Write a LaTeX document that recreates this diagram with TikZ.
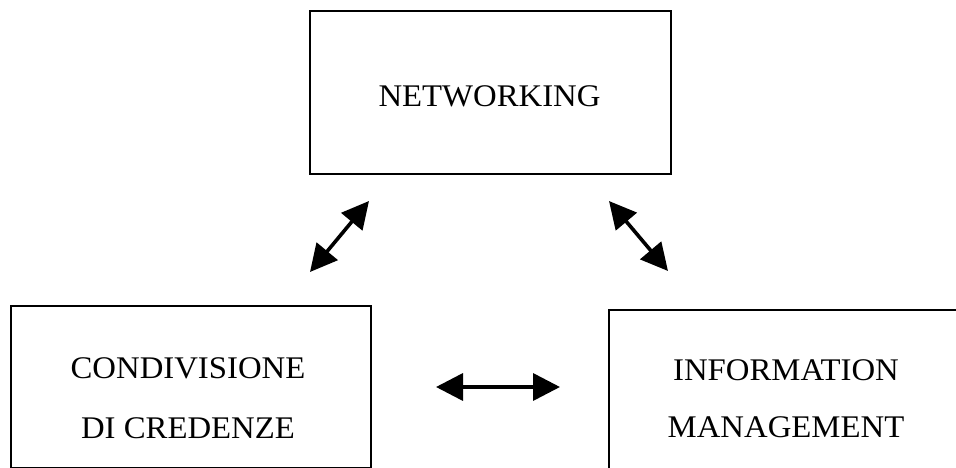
\documentclass[tikz,border=0pt]{standalone}
\usepackage{fontspec}
\setmainfont{Liberation Serif}[FakeStretch=1.04]
\usetikzlibrary{arrows.meta}
\begin{document}
\begin{tikzpicture}[x=1pt,y=-1pt,
  box/.style={draw, line width=1.8pt, rectangle, inner sep=0pt, anchor=north west},
  lbl/.style={font=\fontsize{31.5}{36}\selectfont, anchor=base, inner sep=0pt},
  dbl/.style={line width=3.6pt, {Triangle[length=27pt,width=27pt]}-{Triangle[length=27pt,width=27pt]}}]
\useasboundingbox (0,0) rectangle (956,468);
\fill[white] (0,0) rectangle (956,468);
% boxes
\node[box, minimum width=361pt, minimum height=163pt] (net) at (309,10) {};
\node[box, minimum width=360pt, minimum height=162pt] (cond) at (10,305) {};
\node[box, minimum width=356pt, minimum height=170pt] (info) at (608,309) {};
% labels
\node[lbl] (tnet) at (489.5,107) {NETWORKING};
\node[lbl] (tc1) at (188,378) {CONDIVISIONE};
\node[lbl] (tc2) at (188,438) {DI CREDENZE};
\node[lbl] (ti1) at (786,380) {INFORMATION};
\node[lbl] (ti2) at (786,437) {MANAGEMENT};
% arrow ends
\coordinate (la) at (310,272);
\coordinate (lb) at (369,201);
\coordinate (ra) at (609,201);
\coordinate (rb) at (668,271);
\coordinate (ha) at (436,387);
\coordinate (hb) at (560,387);
\draw[dbl] (la) -- (lb);
\draw[dbl] (ra) -- (rb);
\draw[dbl] (ha) -- (hb);
\end{tikzpicture}
\end{document}
